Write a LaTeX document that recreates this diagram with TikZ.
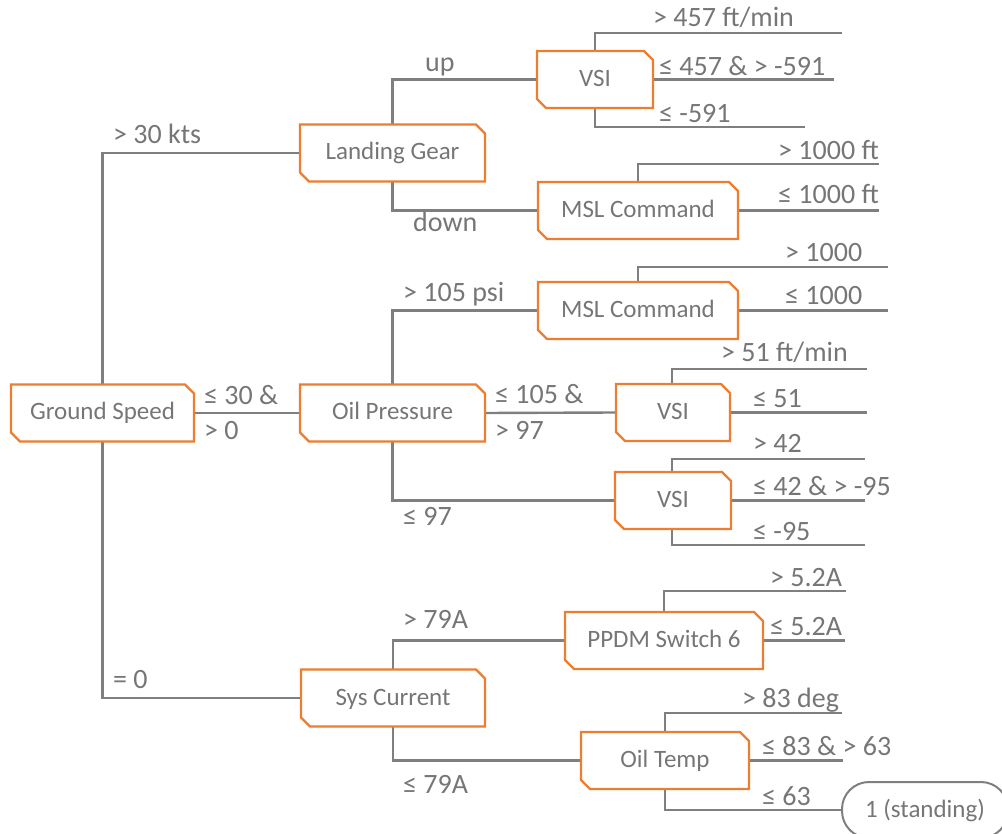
\documentclass[tikz,border=0pt]{standalone}
\usepackage{fontspec}
\setmainfont{Carlito}
\usetikzlibrary{calc}

\definecolor{txt}{HTML}{767676}
\definecolor{ln}{HTML}{7F7F7F}
\definecolor{orng}{HTML}{ED7D31}

\newcommand\nodefont{\fontsize{25}{30}\selectfont}
\newcommand\labelfont{\fontsize{28}{33}\selectfont}

% orange frame with the top-right and bottom-left corners cut off
\newcommand\cutframe[1]{%
  \draw[frameline] (#1.north west) -- ([xshift=-9pt]#1.north east)
    -- ([yshift=-9pt]#1.north east) -- (#1.south east)
    -- ([xshift=9pt]#1.south west) -- ([yshift=9pt]#1.south west) -- cycle;}

\tikzset{
  decision/.style={rectangle, draw=none, minimum height=57pt, inner sep=0pt,
    outer sep=0pt, text height=18pt, text depth=4pt, font=\nodefont, text=txt},
  frameline/.style={draw=orng, line width=2.2pt, line join=miter},
  branch/.style={draw=ln, line width=2.4pt},
  lbl/.style={anchor=base west, inner sep=0pt, font=\labelfont, text=txt},
  leaf/.style={rectangle, rounded corners=27pt, draw=ln, line width=2pt,
    minimum width=166pt, minimum height=56pt, inner sep=0pt, outer sep=0pt,
    text height=18pt, text depth=4pt, font=\nodefont, text=txt},
}

\begin{document}
\begin{tikzpicture}[x=1pt, y=-1pt]
\useasboundingbox (0,0) rectangle (1002,834);
\clip (0,0) rectangle (1002,834);

% decision nodes
\node[decision, minimum width=183pt] (GS)   at (102.5,413)  {Ground Speed};
\node[decision, minimum width=185pt] (LG)   at (392.5,153)  {Landing Gear};
\node[decision, minimum width=185pt] (OP)   at (392.5,413)  {Oil Pressure};
\node[decision, minimum width=184pt] (SC)   at (393,698)    {Sys Current};
\node[decision, minimum width=116pt] (VSIa) at (595,79.5)   {VSI};
\node[decision, minimum width=200pt] (MSLa) at (638,210.5)  {MSL Command};
\node[decision, minimum width=200pt] (MSLb) at (638,310.5)  {MSL Command};
\node[decision, minimum width=114pt] (VSIb) at (673,412.5)  {VSI};
\node[decision, minimum width=116pt] (VSIc) at (673,500.5)  {VSI};
\node[decision, minimum width=198pt] (PPDM) at (664,640.5)  {PPDM Switch 6};
\node[decision, minimum width=168pt] (OT)   at (665,760.5)  {Oil Temp};
\node[leaf] (ST) at (925,810) {1 (standing)};

% open ends of the outcome branches
\coordinate (VSIa1) at (842,33);
\coordinate (VSIa2) at (834,79.5);
\coordinate (VSIa3) at (805,127);
\coordinate (MSLa1) at (879,164);
\coordinate (MSLa2) at (879,210.5);
\coordinate (MSLb1) at (888,267);
\coordinate (MSLb2) at (888,310.5);
\coordinate (VSIb1) at (867,369);
\coordinate (VSIb2) at (867,412.5);
\coordinate (VSIc1) at (865,459);
\coordinate (VSIc2) at (865,500.5);
\coordinate (VSIc3) at (865,545);
\coordinate (PPDM1) at (846,591);
\coordinate (PPDM2) at (845,640.5);
\coordinate (OT1)   at (842,713);
\coordinate (OT2)   at (843,760.5);

% branches between decisions
\draw[branch] (GS.north) |- (LG.west);
\draw[branch] (GS.east) -- (OP.west);
\draw[branch] (GS.south) |- (SC.west);
\draw[branch] (LG.north) |- (VSIa.west);
\draw[branch] (LG.south) |- (MSLa.west);
\draw[branch] (OP.north) |- (MSLb.west);
\draw[branch] (OP.east) -- (VSIb.west);
\draw[branch] (OP.south) |- (VSIc.west);
\draw[branch] (SC.north) |- (PPDM.west);
\draw[branch] (SC.south) |- (OT.west);

% outcome branches
\draw[branch] (VSIa.north) |- (VSIa1);
\draw[branch] (VSIa.east) -- (VSIa2);
\draw[branch] (VSIa.south) |- (VSIa3);
\draw[branch] (MSLa.north) |- (MSLa1);
\draw[branch] (MSLa.east) -- (MSLa2);
\draw[branch] (MSLb.north) |- (MSLb1);
\draw[branch] (MSLb.east) -- (MSLb2);
\draw[branch] ([xshift=-1pt]VSIb.north) |- (VSIb1);
\draw[branch] (VSIb.east) -- (VSIb2);
\draw[branch] ([xshift=-1pt]VSIc.north) |- (VSIc1);
\draw[branch] (VSIc.east) -- (VSIc2);
\draw[branch] ([xshift=-1pt]VSIc.south) |- (VSIc3);
\draw[branch] (PPDM.north) |- (PPDM1);
\draw[branch] (PPDM.east) -- (PPDM2);
\draw[branch] (OT.north) |- (OT1);
\draw[branch] (OT.east) -- (OT2);
\draw[branch] (OT.south) |- (ST.west);

% frames of the decision nodes
\foreach \n in {GS,LG,OP,SC,VSIa,MSLa,MSLb,VSIb,VSIc,PPDM,OT} {\cutframe{\n}}

% branch labels
\node[lbl] (l1)  at (113,144)  {> 30 kts};
\node[lbl] (l2)  at (204,405)  {≤ 30 \&};
\node[lbl] (l3)  at (204,439)  {> 0};
\node[lbl] (l4)  at (113,688)  {= 0};
\node[lbl] (l5)  at (425,72)   {up};
\node[lbl] (l6)  at (413,232)  {down};
\node[lbl] (l7)  at (403,302)  {> 105 psi};
\node[lbl] (l8)  at (495,404)  {≤ 105 \&};
\node[lbl] (l9)  at (495,439)  {> 97};
\node[lbl] (l10) at (403,525)  {≤ 97};
\node[lbl] (l11) at (403,628)  {> 79A};
\node[lbl] (l12) at (403,793)  {≤ 79A};

\node[lbl] (r1)  at (653,27)   {> 457 ft/min};
\node[lbl] (r2)  at (659,76)   {≤ 457 \& > -591};
\node[lbl] (r3)  at (659,123)  {≤ -591};
\node[lbl] (r4)  at (778,160)  {> 1000 ft};
\node[lbl] (r5)  at (778,204)  {≤ 1000 ft};
\node[lbl] (r6)  at (785,262)  {> 1000};
\node[lbl] (r7)  at (785,305)  {≤ 1000};
\node[lbl] (r8)  at (721,362)  {> 51 ft/min};
\node[lbl] (r9)  at (753,407)  {≤ 51};
\node[lbl] (r10) at (753,453)  {> 42};
\node[lbl] (r11) at (753,495)  {≤ 42 \& > -95};
\node[lbl] (r12) at (753,540)  {≤ -95};
\node[lbl] (r13) at (770,586)  {> 5.2A};
\node[lbl] (r14) at (770,635)  {≤ 5.2A};
\node[lbl] (r15) at (742,707)  {> 83 deg};
\node[lbl] (r16) at (762,755)  {≤ 83 \& > 63};
\node[lbl] (r17) at (762,805)  {≤ 63};
\end{tikzpicture}
\end{document}
